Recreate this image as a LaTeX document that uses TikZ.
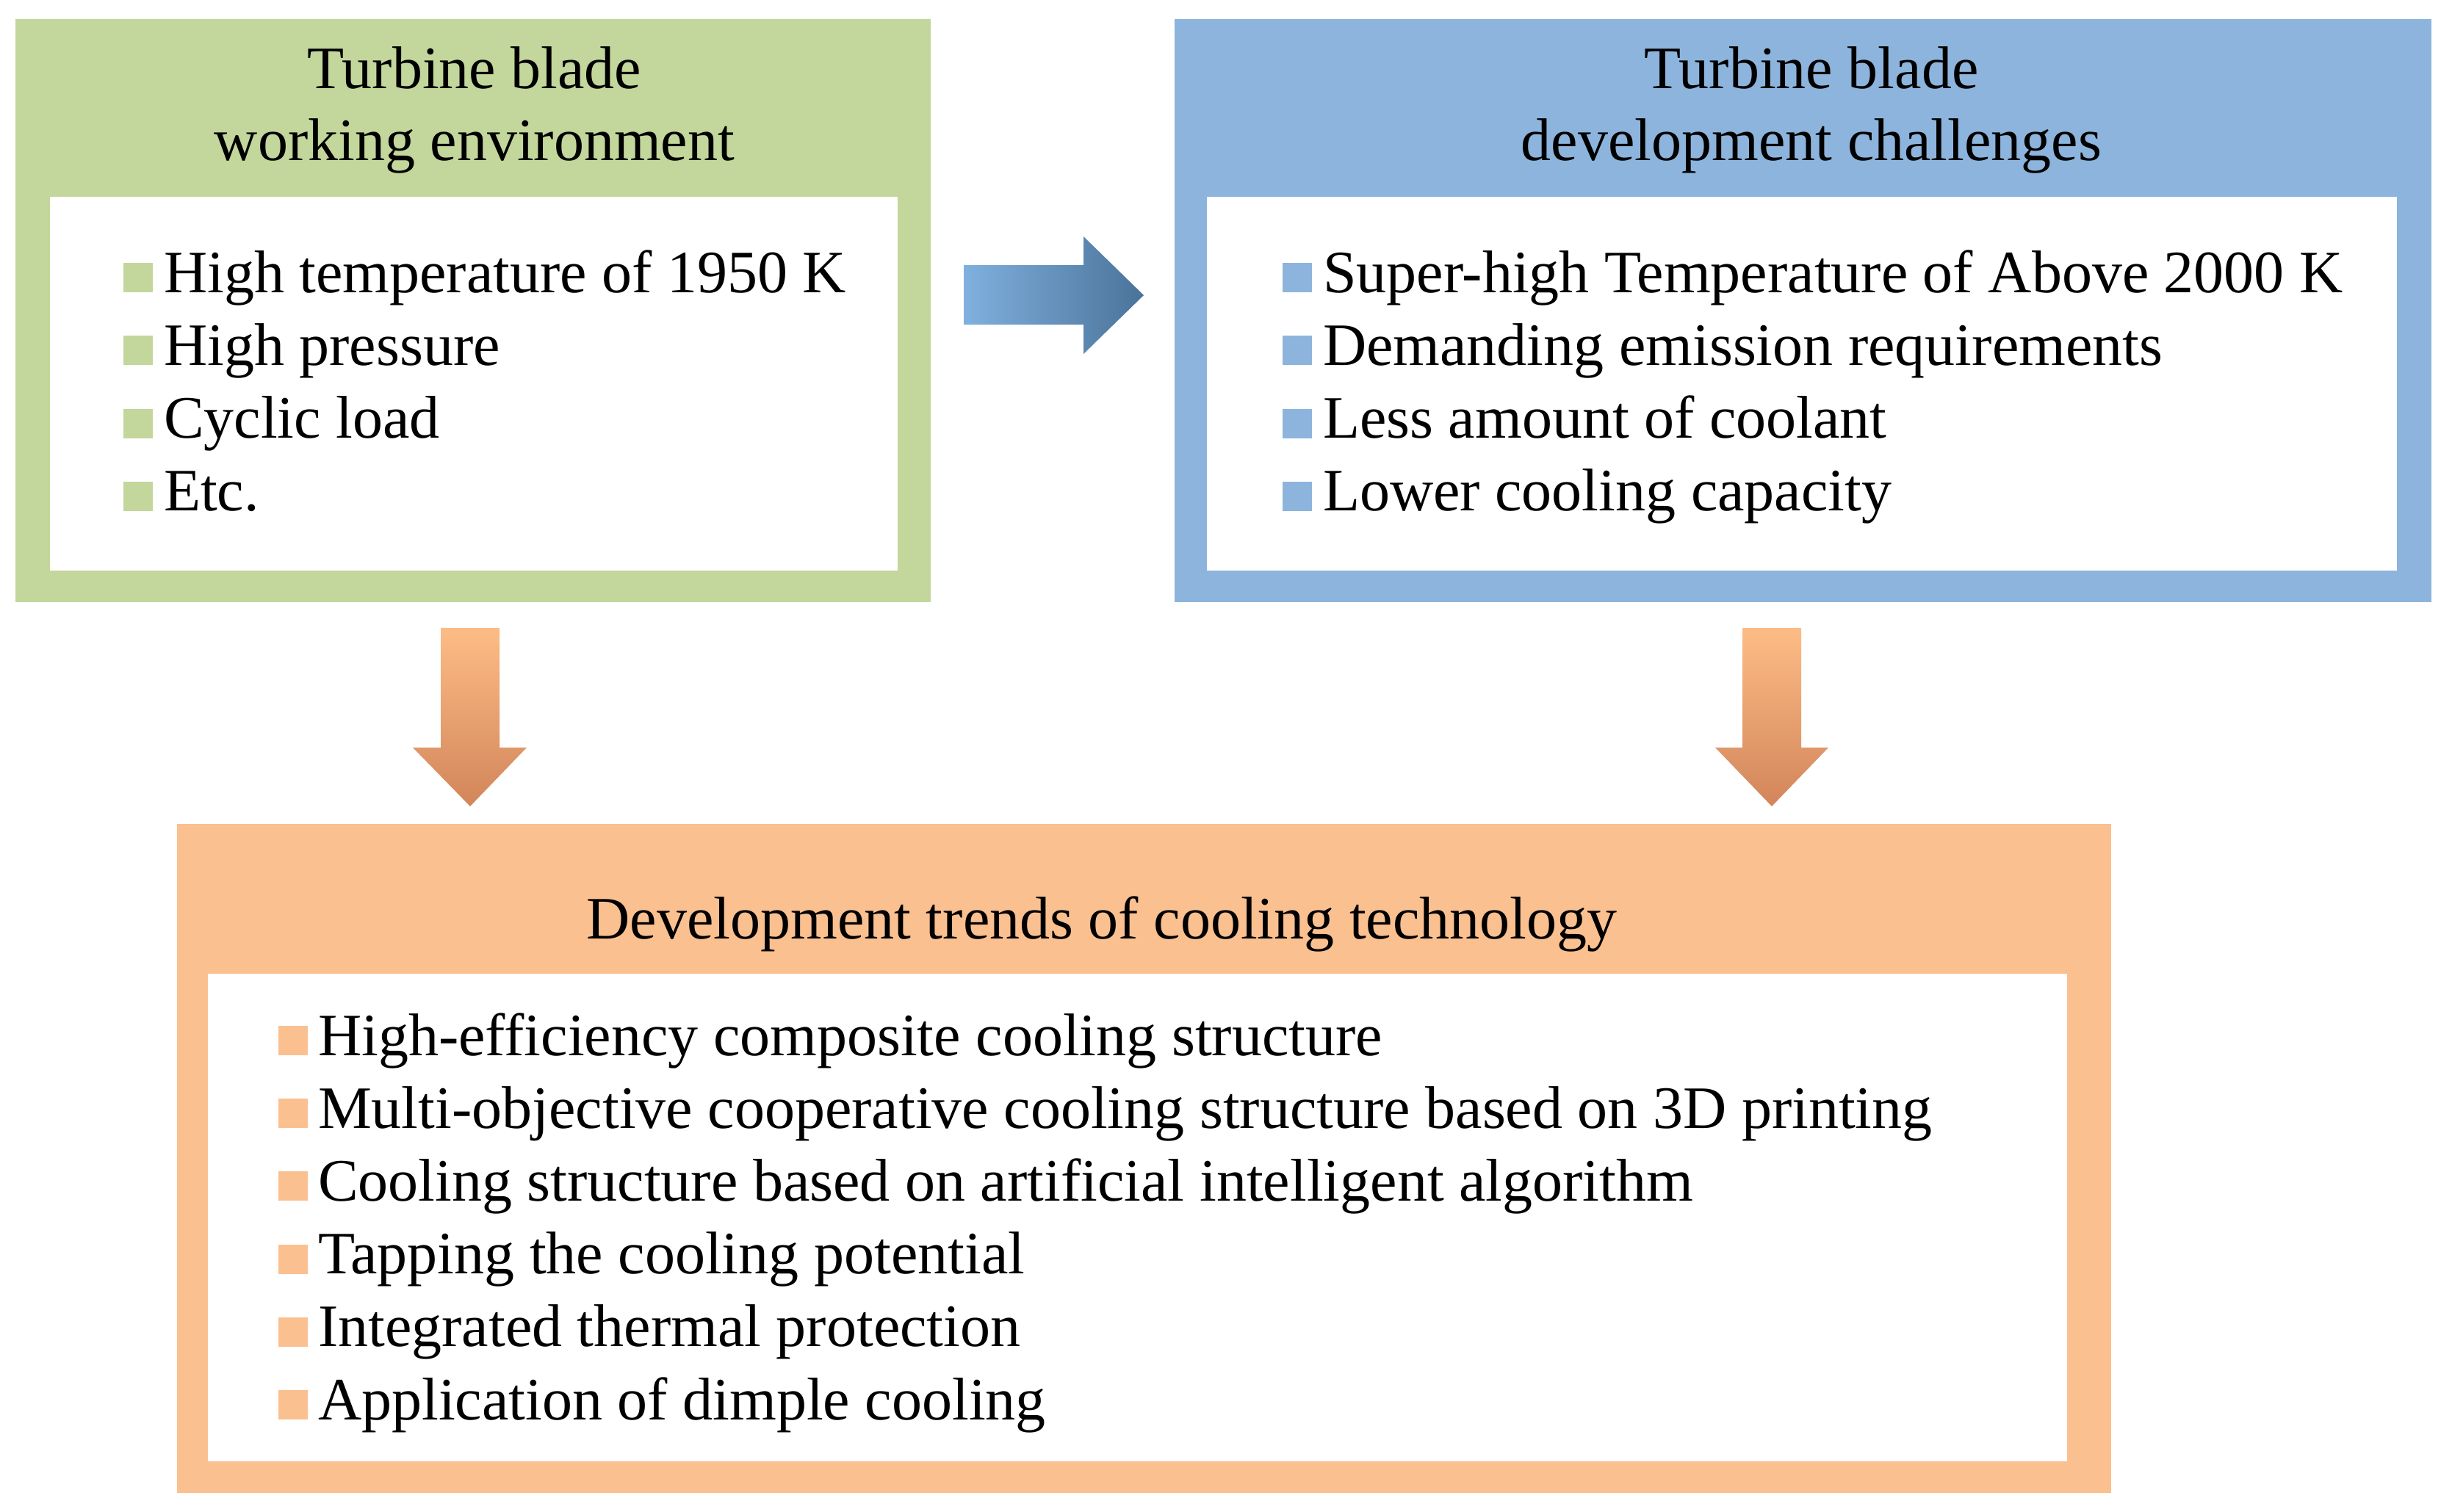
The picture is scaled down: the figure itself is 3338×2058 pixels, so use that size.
\documentclass[tikz,border=0pt]{standalone}
\usepackage{fontspec}
\setmainfont{Liberation Serif}
\usetikzlibrary{fit}
\definecolor{grn}{HTML}{C3D69B}
\definecolor{blu}{HTML}{8DB4DC}
\definecolor{org}{HTML}{FAC090}
\definecolor{bluL}{HTML}{80B0DE}
\definecolor{bluD}{HTML}{4A7399}
\definecolor{orgL}{HTML}{FDBC86}
\definecolor{orgD}{HTML}{D2855A}
\tikzset{
  frame/.style={inner sep=0pt, outer sep=0pt, draw=none},
  txt/.style={inner sep=0pt, outer sep=0pt, font=\fontsize{20.5}{25}\selectfont},
  item/.style={txt, anchor=base west},
  ttl/.style={txt, anchor=base},
  bul/.style={inner sep=0pt, outer sep=0pt, minimum size=10pt, anchor=south west, draw=none}
}
\begin{document}
\begin{tikzpicture}[x=0.25pt, y=-0.25pt]
\useasboundingbox (0,0) rectangle (3338,2058);
% frames
\node[frame, fill=grn, fit={(21,26) (1267,820)}] (gout) {};
\node[frame, fill=white, fit={(68,268) (1222,777)}] (gin) {};
\node[frame, fill=blu, fit={(1599,26) (3310,820)}] (bout) {};
\node[frame, fill=white, fit={(1643,268) (3263,777)}] (bin) {};
\node[frame, fill=org, fit={(241,1122) (2874,2033)}] (oout) {};
\node[frame, fill=white, fit={(283,1326) (2814,1990)}] (oin) {};
% titles
\node[ttl] (gt1) at (646,120) {Turbine blade};
\node[ttl] (gt2) at (646,218) {working environment};
\node[ttl] (bt1) at (2466,120) {Turbine blade};
\node[ttl] (bt2) at (2466,218) {development challenges};
\node[ttl] (ot) at (1500,1278) {Development trends of cooling technology};
% green items
\foreach \t [count=\i from 0] in {High temperature of 1950 K, High pressure, Cyclic load, Etc.}{
  \node[bul, fill=grn] (gb\i) at (168,{398+99.3*\i}) {};
  \node[item] (gi\i) at (223,{398+99.3*\i}) {\t};
}
% blue items
\foreach \t [count=\i from 0] in {Super-high Temperature of Above 2000 K, Demanding emission requirements, Less amount of coolant, Lower cooling capacity}{
  \node[bul, fill=blu] (bb\i) at (1746,{398+99.3*\i}) {};
  \node[item] (bi\i) at (1801,{398+99.3*\i}) {\t};
}
% orange items
\foreach \t [count=\i from 0] in {High-efficiency composite cooling structure, Multi-objective cooperative cooling structure based on 3D printing, Cooling structure based on artificial intelligent algorithm, Tapping the cooling potential, Integrated thermal protection, Application of dimple cooling}{
  \node[bul, fill=org] (ob\i) at (379,{1437+99.2*\i}) {};
  \node[item] (oi\i) at (433,{1437+99.2*\i}) {\t};
}
% block arrows
\shade[left color=bluL, right color=bluD]
  (1312,361) -- (1475,361) -- (1475,322) -- (1557,402) -- (1475,482) -- (1475,442) -- (1312,442) -- cycle;
\shade[top color=orgL, bottom color=orgD]
  (600,855) -- (680,855) -- (680,1018) -- (717,1018) -- (640,1098) -- (562,1018) -- (600,1018) -- cycle;
\shade[top color=orgL, bottom color=orgD]
  (2372,855) -- (2452,855) -- (2452,1018) -- (2489,1018) -- (2412,1098) -- (2335,1018) -- (2372,1018) -- cycle;
\end{tikzpicture}
\end{document}
